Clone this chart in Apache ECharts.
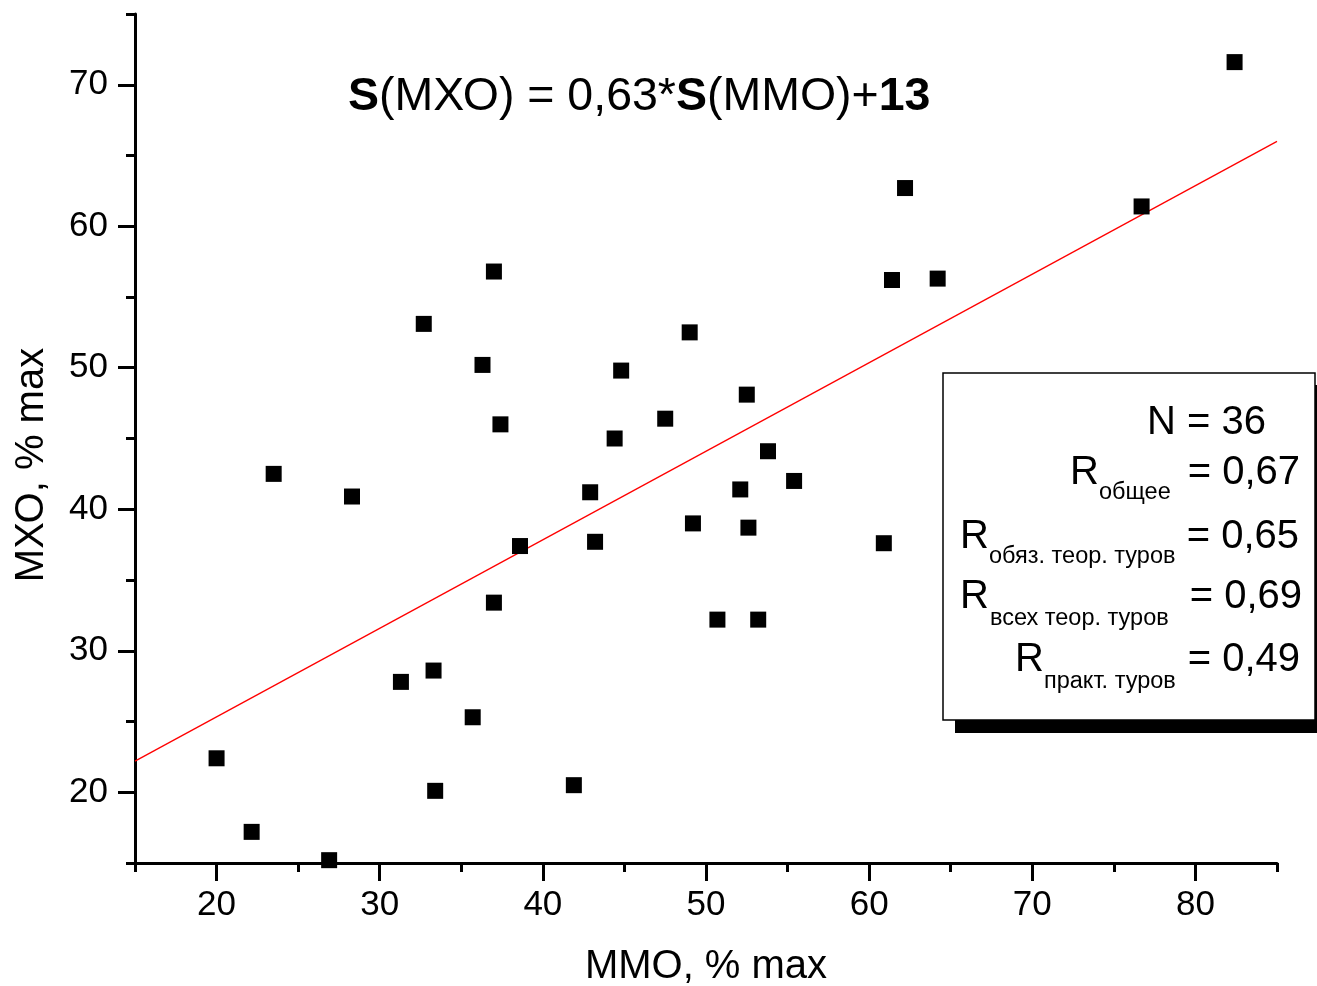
<!DOCTYPE html>
<html><head><meta charset="utf-8">
<script src="https://cdn.jsdelivr.net/npm/echarts@6/dist/echarts.min.js"></script>
<style>html,body{margin:0;padding:0;background:#fff}#c{width:1317px;height:986px}</style>
</head><body><div id="c"></div>
<script>
const mmo = [20.0,22.15,23.5,26.9,28.3,31.3,32.7,33.3,33.4,35.7,36.3,37.0,37.0,37.4,38.6,41.9,42.9,43.2,44.4,44.8,47.5,49.0,49.2,50.7,52.1,52.5,52.6,53.2,53.8,55.4,60.9,61.4,62.2,64.2,76.7,82.4];
const mxo = [22.4,17.2,42.5,15.2,40.9,27.8,53.1,28.6,20.1,25.3,50.2,56.8,33.4,46.0,37.4,20.5,41.2,37.7,45.0,49.8,46.4,52.5,39.0,32.2,41.4,48.1,38.7,32.2,44.1,42.0,37.6,56.2,62.7,56.3,61.4,71.6];
const fitX = [15, 85];
const fitY = [22.2, 66.0];
const xMajor = [20,30,40,50,60,70,80];
const xMinor = [15,25,35,45,55,65,75,85];
const yMajor = [20,30,40,50,60,70];
const yMinor = [15,25,35,45,55,65,75];

const FONT = '"Liberation Sans", Arial, sans-serif';
const chart = echarts.init(document.getElementById('c'), null, {renderer:'canvas'});
const axLine = {show:true, lineStyle:{color:'#000', width:3}};
chart.setOption({
  animation:false,
  textStyle:{fontFamily:FONT},
  grid: {left:135, right:40, top:14, bottom:123, containLabel:false, outerBoundsMode:'none'},
  xAxis:[{
    type:'value', min:15, max:85, position:'bottom',
    axisLine:axLine, splitLine:{show:false},
    axisTick:{show:true, customValues:xMajor, length:18, lineStyle:{color:'#000', width:3}},
    axisLabel:{customValues:xMajor, fontSize:35, color:'#000', margin:25, fontFamily:FONT},
    name:'ММО, % max', nameLocation:'middle', nameGap:84,
    nameTextStyle:{fontSize:40, color:'#000', fontFamily:FONT}
  },{
    type:'value', min:15, max:85, position:'bottom',
    axisLine:{show:false}, splitLine:{show:false},
    axisTick:{show:true, customValues:xMinor, length:9, lineStyle:{color:'#000', width:3}},
    axisLabel:{show:false}
  }],
  yAxis:[{
    type:'value', min:15, max:75, position:'left',
    axisLine:axLine, splitLine:{show:false},
    axisTick:{show:true, customValues:yMajor, length:17, lineStyle:{color:'#000', width:3}},
    axisLabel:{customValues:yMajor, fontSize:35, color:'#000', margin:27, fontFamily:FONT}
  },{
    type:'value', min:15, max:75, position:'left',
    axisLine:{show:false}, splitLine:{show:false},
    axisTick:{show:true, customValues:yMinor, length:9, lineStyle:{color:'#000', width:3}},
    axisLabel:{show:false}
  }],
  series:[{
    type:'line', xAxisIndex:0, yAxisIndex:0,
    data: fitX.map((x,i)=>[x, fitY[i]]),
    showSymbol:false, lineStyle:{color:'#ff0000', width:1.3}, z:1
  },{
    type:'scatter', xAxisIndex:0, yAxisIndex:0,
    data: mmo.map((x,i)=>[x, mxo[i]]),
    symbol:'rect', symbolSize:16, itemStyle:{color:'#000', opacity:1}, z:3
  }],
  graphic:[
    {type:'text', x:32, y:465, rotation:Math.PI/2, style:{text:'МХО, % max', font:'40px '+FONT, fill:'#000', align:'center', verticalAlign:'middle'}, z:10},
    {type:'text', x:348, y:97, style:{
      text:'{b|S}{n|(МХО) = 0,63*}{b|S}{n|(ММО)+}{b|13}',
      verticalAlign:'middle', fill:'#000',
      rich:{b:{font:'bold 46.5px '+FONT, fill:'#000'}, n:{font:'46.5px '+FONT, fill:'#000'}}
    }, z:10},
    {type:'rect', shape:{x:955, y:385, width:372, height:348}, style:{fill:'#000'}, z:5},
    {type:'rect', shape:{x:943, y:373, width:372, height:347}, style:{fill:'#fff', stroke:'#000', lineWidth:1.5}, z:6},
    {type:'text', x:1266, y:423, style:{text:'N = 36', font:'40px '+FONT, fill:'#000', align:'right', verticalAlign:'middle'}, z:7},
    {type:'text', x:1070, y:473, style:{text:'R', font:'40px '+FONT, fill:'#000', align:'left', verticalAlign:'middle'}, z:7},
    {type:'text', x:1099, y:493, style:{text:'общее', font:'23.5px '+FONT, fill:'#000', align:'left', verticalAlign:'middle'}, z:7},
    {type:'text', x:1300, y:473, style:{text:'= 0,67', font:'40px '+FONT, fill:'#000', align:'right', verticalAlign:'middle'}, z:7},
    {type:'text', x:960, y:537, style:{text:'R', font:'40px '+FONT, fill:'#000', align:'left', verticalAlign:'middle'}, z:7},
    {type:'text', x:989, y:557, style:{text:'обяз. теор. туров', font:'23.5px '+FONT, fill:'#000', align:'left', verticalAlign:'middle'}, z:7},
    {type:'text', x:1299, y:537, style:{text:'= 0,65', font:'40px '+FONT, fill:'#000', align:'right', verticalAlign:'middle'}, z:7},
    {type:'text', x:960, y:597, style:{text:'R', font:'40px '+FONT, fill:'#000', align:'left', verticalAlign:'middle'}, z:7},
    {type:'text', x:990, y:619, style:{text:'всех теор. туров', font:'23.5px '+FONT, fill:'#000', align:'left', verticalAlign:'middle'}, z:7},
    {type:'text', x:1302, y:597, style:{text:'= 0,69', font:'40px '+FONT, fill:'#000', align:'right', verticalAlign:'middle'}, z:7},
    {type:'text', x:1015, y:660, style:{text:'R', font:'40px '+FONT, fill:'#000', align:'left', verticalAlign:'middle'}, z:7},
    {type:'text', x:1044, y:682, style:{text:'практ. туров', font:'23.5px '+FONT, fill:'#000', align:'left', verticalAlign:'middle'}, z:7},
    {type:'text', x:1300, y:660, style:{text:'= 0,49', font:'40px '+FONT, fill:'#000', align:'right', verticalAlign:'middle'}, z:7}
  ]
});
</script></body></html>
